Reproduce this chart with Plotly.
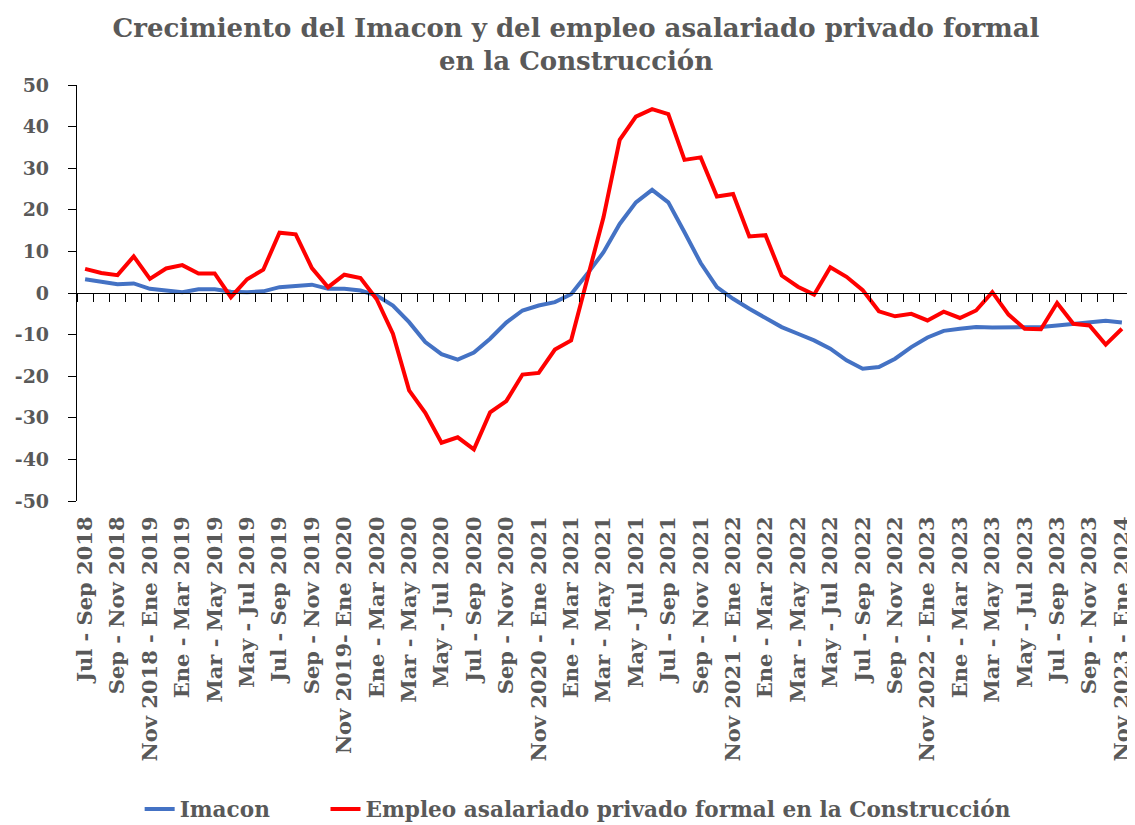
import plotly.graph_objects as go

# trimestres moviles (eje x)
periodos = [
    "Jul - Sep 2018", "Ago - Oct 2018", "Sep - Nov 2018", "Oct - Dic 2018",
    "Nov 2018 - Ene 2019", "Dic 2018 - Feb 2019", "Ene - Mar 2019", "Feb - Abr 2019",
    "Mar - May 2019", "Abr - Jun 2019", "May - Jul 2019", "Jun - Ago 2019",
    "Jul - Sep 2019", "Ago - Oct 2019", "Sep - Nov 2019", "Oct - Dic 2019",
    "Nov 2019- Ene 2020", "Dic 2019 - Feb 2020", "Ene - Mar 2020", "Feb - Abr 2020",
    "Mar - May 2020", "Abr - Jun 2020", "May - Jul 2020", "Jun - Ago 2020",
    "Jul - Sep 2020", "Ago - Oct 2020", "Sep - Nov 2020", "Oct - Dic 2020",
    "Nov 2020 - Ene 2021", "Dic 2020 - Feb 2021", "Ene - Mar 2021", "Feb - Abr 2021",
    "Mar - May 2021", "Abr - Jun 2021", "May - Jul 2021", "Jun - Ago 2021",
    "Jul - Sep 2021", "Ago - Oct 2021", "Sep - Nov 2021", "Oct - Dic 2021",
    "Nov 2021 - Ene 2022", "Dic 2021 - Feb 2022", "Ene - Mar 2022", "Feb - Abr 2022",
    "Mar - May 2022", "Abr - Jun 2022", "May - Jul 2022", "Jun - Ago 2022",
    "Jul - Sep 2022", "Ago - Oct 2022", "Sep - Nov 2022", "Oct - Dic 2022",
    "Nov 2022 - Ene 2023", "Dic 2022 - Feb 2023", "Ene - Mar 2023", "Feb - Abr 2023",
    "Mar - May 2023", "Abr - Jun 2023", "May - Jul 2023", "Jun - Ago 2023",
    "Jul - Sep 2023", "Ago - Oct 2023", "Sep - Nov 2023", "Oct - Dic 2023",
    "Nov 2023 - Ene 2024",
]

imacon = [
    3.3, 2.7, 2.1, 2.3, 1.0, 0.6, 0.2, 0.9, 0.9, 0.3, 0.2, 0.4, 1.4, 1.7, 2.0, 1.0,
    1.0, 0.6, -0.6, -3.0, -7.0, -11.8, -14.7, -16.0, -14.3, -11.0, -7.1, -4.2, -3.0, -2.2,
    -0.3, 4.6, 9.8, 16.6, 21.8, 24.8, 21.8, 14.6, 7.2, 1.4, -1.4, -3.8, -6.0, -8.2,
    -9.8, -11.4, -13.4, -16.2, -18.2, -17.8, -15.8, -13.0, -10.7, -9.1, -8.6, -8.2,
    -8.3, -8.3, -8.3, -8.2, -7.8, -7.4, -7.1, -6.7, -7.1,
]

empleo = [
    5.8, 4.8, 4.3, 8.8, 3.4, 5.9, 6.7, 4.7, 4.7, -1.0, 3.3, 5.6, 14.5, 14.1, 6.0, 1.4,
    4.4, 3.6, -1.5, -9.8, -23.4, -28.8, -36.0, -34.7, -37.6, -28.7, -26.0, -19.6, -19.2,
    -13.6, -11.4, 3.4, 18.2, 36.8, 42.4, 44.2, 43.0, 32.0, 32.6, 23.2, 23.8, 13.6, 13.9,
    4.2, 1.5, -0.4, 6.2, 3.9, 0.7, -4.4, -5.6, -5.0, -6.6, -4.5, -6.0, -4.2, 0.2, -5.2,
    -8.6, -8.7, -2.4, -7.4, -7.8, -12.4, -8.6,
]

y_vals = [50, 40, 30, 20, 10, 0, -10, -20, -30, -40, -50]
y_text = ["50", "40", "30", "20", "10", "0", "-10", "-20", "-30", "-40", "-50"]

# solo se rotula un periodo de cada dos
x_text = [p if i % 2 == 0 else "" for i, p in enumerate(periodos)]

gris = "#595959"
fuente = "DejaVu Serif"

fig = go.Figure()

fig.add_trace(go.Scatter(
    x=periodos, y=imacon, mode="lines", name="<b>Imacon</b>",
    line=dict(color="#4472C4", width=4), legend="legend",
))
fig.add_trace(go.Scatter(
    x=periodos, y=empleo, mode="lines",
    name="<b>Empleo asalariado privado formal en la Construcción</b>",
    line=dict(color="#FF0000", width=4), legend="legend2",
))

# la pagina tiene 8px de margen en body, se descuentan de los margenes
fig.update_layout(
    width=1127, height=817,
    paper_bgcolor="white", plot_bgcolor="white",
    margin=dict(l=69, r=5, t=77, b=324, autoexpand=False),
    font=dict(family=fuente, color=gris),
    title=dict(
        text="<b>Crecimiento del Imacon y del empleo asalariado privado formal<br>en la Construcción</b>",
        x=0.504, xanchor="center", y=0.965, yanchor="top",
        font=dict(family=fuente, size=26, color=gris),
    ),
    showlegend=True,
    legend=dict(
        orientation="h", x=0.0595, xanchor="left",
        yref="container", y=0.019, yanchor="middle",
        font=dict(family=fuente, size=21.6, color=gris),
    ),
    legend2=dict(
        orientation="h", x=0.236, xanchor="left",
        yref="container", y=0.019, yanchor="middle",
        font=dict(family=fuente, size=21.6, color=gris),
    ),
    xaxis=dict(
        type="category", categoryorder="array", categoryarray=periodos,
        range=[-0.5, len(periodos) - 0.5],
        anchor="free", position=0.5, automargin=False,
        showline=True, linecolor="#000000", linewidth=1.2,
        ticks="outside", ticklen=8, tickcolor="#000000", tickwidth=1.2,
        tickson="boundaries",
        tickmode="array", tickvals=periodos, ticktext=[f"<b>{t}</b>" if t else "" for t in x_text],
        tickangle=-90, tickfont=dict(family=fuente, size=21, color=gris),
        ticklabelstandoff=214,
        showgrid=False, zeroline=False,
    ),
    yaxis=dict(
        range=[-50, 50], automargin=False,
        tickmode="array", tickvals=y_vals, ticktext=[f"<b>{t}</b>" for t in y_text],
        showline=True, linecolor="#000000", linewidth=1.2,
        ticks="outside", ticklen=8, tickcolor="#000000", tickwidth=1.2,
        tickfont=dict(family=fuente, size=19, color=gris),
        ticklabelstandoff=15,
        showgrid=False, zeroline=False,
    ),
)

fig.write_html("out.html")
